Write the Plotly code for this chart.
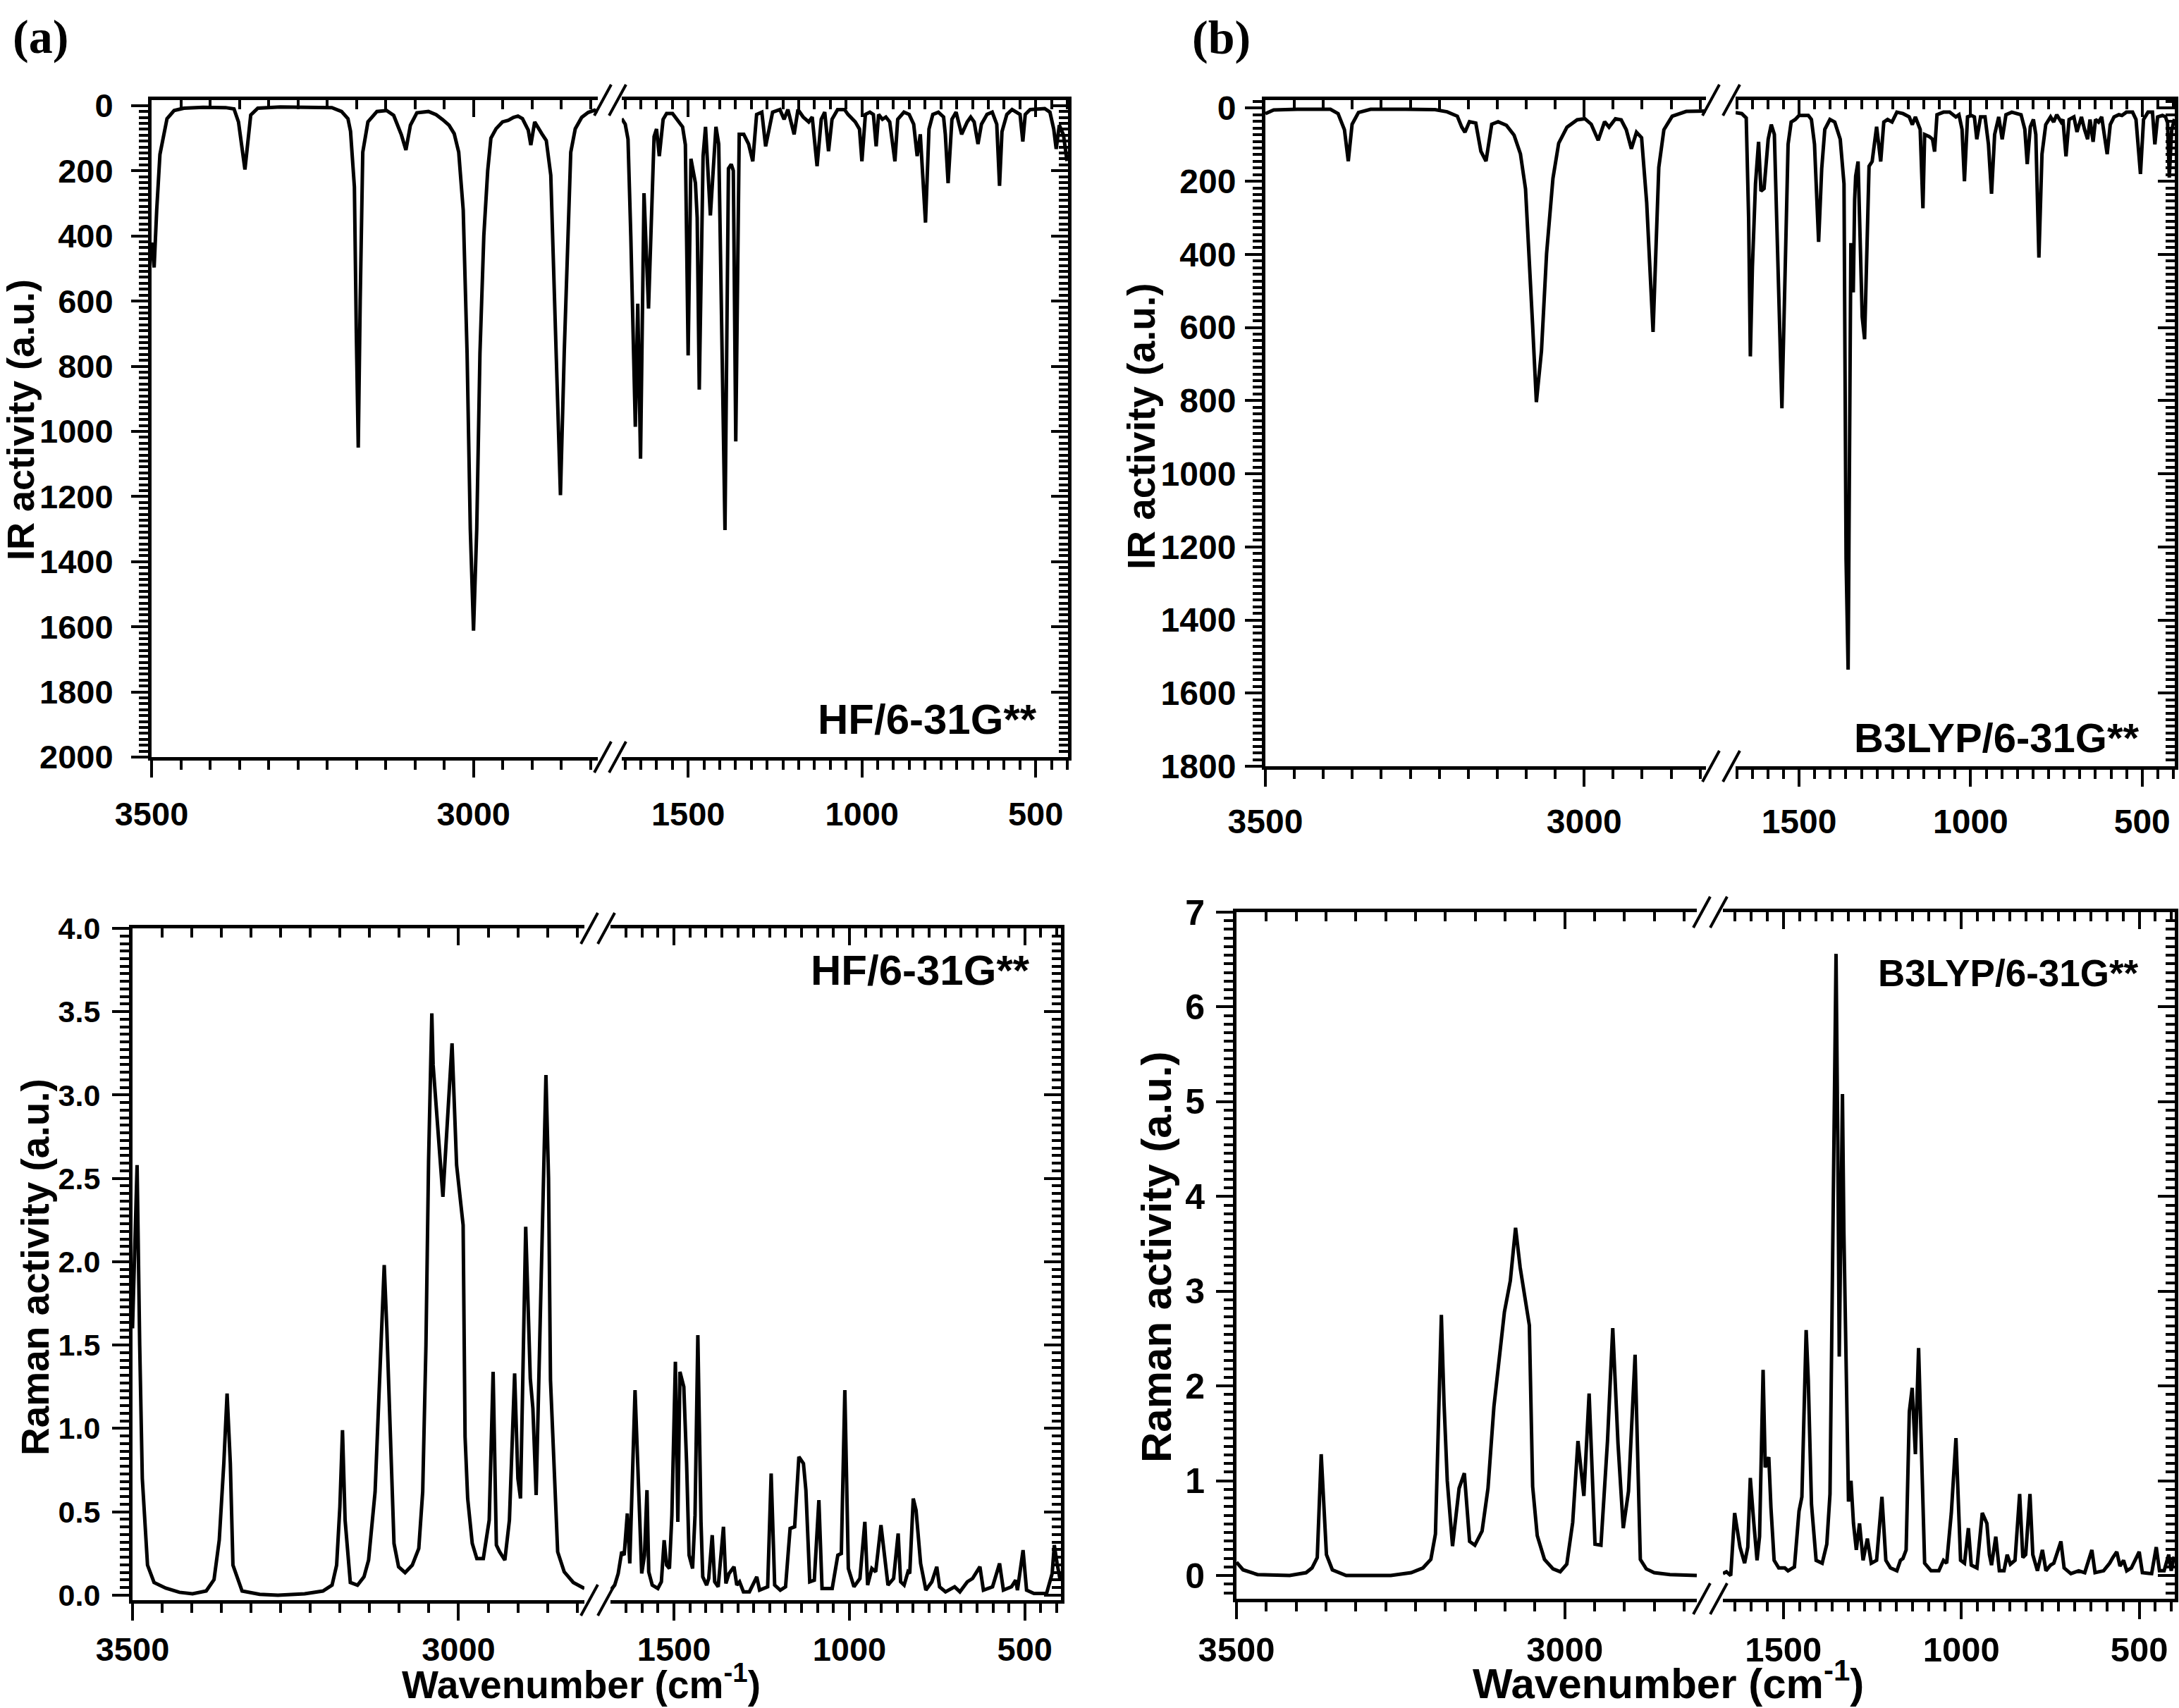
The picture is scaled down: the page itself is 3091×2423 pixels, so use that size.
import math
import plotly.graph_objects as go

W, H = 3091, 2423

# ---------------- data: (wavenumber, activity) ----------------
hf_ir_high = [
    (3500, 420), (3496, 497), (3492, 320), (3487, 150), (3476, 40), (3465, 15), (3450, 8), (3420, 5),
    (3385, 6), (3372, 10), (3365, 50), (3355, 196), (3346, 29), (3335, 8), (3300, 4), (3250, 4),
    (3220, 6), (3205, 18), (3195, 40), (3191, 79), (3185, 250), (3182, 700), (3179, 1050), (3176, 600),
    (3172, 143), (3164, 50), (3150, 18), (3135, 15), (3124, 30), (3112, 90), (3105, 136), (3098, 60),
    (3088, 22), (3070, 18), (3058, 28), (3048, 43), (3038, 60), (3030, 86), (3023, 143), (3016, 321),
    (3010, 760), (3005, 1300), (3000, 1612), (2995, 1300), (2990, 760), (2984, 400), (2978, 200),
    (2973, 100), (2965, 71), (2955, 50), (2946, 45), (2938, 36), (2931, 32), (2924, 40), (2915, 75),
    (2911, 121), (2905, 50), (2894, 86), (2887, 107), (2880, 214), (2874, 600), (2865, 1196),
    (2859, 750), (2854, 400), (2849, 143), (2842, 71), (2832, 36), (2822, 21), (2812, 14), (2807, 20),
]
hf_ir_low = [
    (1691, 40), (1681, 57), (1673, 103), (1665, 400), (1652, 986), (1645, 608), (1637, 1084),
    (1627, 269), (1614, 623), (1598, 95), (1591, 72), (1583, 155), (1572, 42), (1562, 24), (1545, 24),
    (1531, 42), (1516, 65), (1508, 120), (1500, 767), (1492, 163), (1479, 238), (1474, 344),
    (1468, 872), (1457, 155), (1450, 65), (1436, 337), (1420, 65), (1412, 118), (1394, 1303),
    (1384, 193), (1376, 180), (1370, 200), (1363, 1031), (1353, 88), (1340, 88), (1326, 118),
    (1314, 171), (1303, 27), (1288, 20), (1277, 125), (1257, 20), (1236, 12), (1224, 42), (1213, 12),
    (1195, 88), (1184, 12), (1169, 35), (1153, 50), (1143, 35), (1129, 186), (1117, 42), (1107, 20),
    (1096, 140), (1086, 42), (1070, 12), (1050, 12), (1040, 27), (1019, 50), (1007, 72), (1000, 171),
    (990, 27), (977, 20), (967, 27), (959, 125), (952, 27), (941, 42), (931, 35), (920, 50), (905, 171),
    (897, 42), (879, 20), (864, 27), (851, 57), (841, 155), (832, 88), (817, 359), (807, 72), (796, 27),
    (780, 20), (765, 35), (760, 88), (752, 238), (741, 42), (729, 20), (713, 88), (697, 50), (687, 35),
    (677, 50), (666, 118), (656, 57), (640, 27), (625, 20), (612, 57), (604, 246), (597, 80), (583, 27),
    (568, 12), (545, 27), (537, 110), (530, 27), (516, 12), (474, 9), (459, 20), (448, 72), (441, 133),
    (432, 60), (420, 90), (410, 170),
]
hf_raman_high = [
    (3500, 1.6), (3497, 2.0), (3493, 2.58), (3489, 1.5), (3485, 0.70), (3477, 0.18), (3467, 0.076),
    (3449, 0.042), (3428, 0.017), (3408, 0.008), (3387, 0.025), (3375, 0.093), (3367, 0.33),
    (3360, 0.79), (3355, 1.21), (3350, 0.79), (3346, 0.18), (3332, 0.025), (3305, 0.005), (3277, 0.0),
    (3236, 0.008), (3208, 0.025), (3194, 0.06), (3187, 0.18), (3182, 0.53), (3178, 0.99), (3174, 0.45),
    (3166, 0.076), (3155, 0.06), (3145, 0.11), (3138, 0.21), (3128, 0.62), (3121, 1.29), (3114, 1.98),
    (3110, 1.6), (3104, 0.8), (3099, 0.31), (3092, 0.17), (3082, 0.135), (3071, 0.18), (3061, 0.28),
    (3055, 0.62), (3050, 1.5), (3046, 2.6), (3041, 3.49), (3039, 3.18), (3024, 2.39), (3010, 3.31),
    (3003, 2.58), (2993, 2.22), (2990, 0.95), (2986, 0.58), (2979, 0.31), (2972, 0.22), (2962, 0.22),
    (2953, 0.45), (2947, 1.34), (2942, 0.3), (2937, 0.26), (2929, 0.21), (2922, 0.45), (2914, 1.33),
    (2909, 0.7), (2905, 0.58), (2901, 1.5), (2897, 2.21), (2890, 1.3), (2886, 1.12), (2881, 0.6),
    (2872, 2.0), (2866, 3.12), (2862, 2.5), (2859, 1.29), (2848, 0.26), (2838, 0.14), (2824, 0.076),
    (2807, 0.04),
]
hf_raman_low = [
    (1681, 0.03), (1669, 0.06), (1659, 0.13), (1649, 0.26), (1642, 0.24), (1633, 0.49), (1626, 0.19),
    (1611, 1.23), (1592, 0.13), (1584, 0.24), (1577, 0.63), (1572, 0.14), (1562, 0.06), (1546, 0.04),
    (1536, 0.08), (1528, 0.33), (1521, 0.18), (1513, 0.16), (1506, 0.48), (1496, 1.40), (1489, 0.44),
    (1483, 1.34), (1472, 1.25), (1464, 0.79), (1457, 0.24), (1447, 0.16), (1440, 0.48), (1432, 1.56),
    (1423, 0.44), (1418, 0.11), (1407, 0.06), (1401, 0.1), (1391, 0.36), (1384, 0.08), (1374, 0.05),
    (1359, 0.41), (1352, 0.07), (1343, 0.13), (1329, 0.17), (1321, 0.06), (1313, 0.08), (1302, 0.02),
    (1285, 0.02), (1264, 0.11), (1256, 0.03), (1233, 0.05), (1223, 0.73), (1213, 0.06), (1197, 0.03),
    (1182, 0.05), (1169, 0.40), (1156, 0.41), (1144, 0.83), (1131, 0.79), (1124, 0.63), (1113, 0.08),
    (1100, 0.09), (1087, 0.57), (1078, 0.04), (1049, 0.04), (1033, 0.24), (1023, 0.25), (1013, 1.23),
    (1003, 0.16), (987, 0.05), (970, 0.1), (956, 0.44), (948, 0.06), (936, 0.16), (925, 0.14),
    (910, 0.42), (890, 0.06), (874, 0.1), (861, 0.37), (854, 0.08), (844, 0.06), (833, 0.14),
    (828, 0.13), (818, 0.58), (810, 0.51), (797, 0.19), (782, 0.03), (765, 0.08), (751, 0.17),
    (743, 0.05), (726, 0.02), (700, 0.05), (685, 0.02), (664, 0.08), (649, 0.1), (628, 0.17),
    (618, 0.03), (592, 0.05), (572, 0.19), (561, 0.03), (538, 0.05), (526, 0.09), (521, 0.03),
    (505, 0.27), (495, 0.03), (474, 0.01), (438, 0.01), (422, 0.13), (416, 0.30), (408, 0.19), (400, 0.1),
]
b3_ir_high = [
    (3500, 15), (3487, 5), (3450, 3), (3398, 3), (3386, 15), (3376, 59), (3370, 145), (3364, 44),
    (3354, 12), (3335, 3), (3280, 3), (3234, 4), (3215, 10), (3199, 22), (3192, 52), (3187, 66),
    (3180, 37), (3170, 41), (3162, 118), (3154, 145), (3145, 44), (3135, 37), (3122, 47), (3110, 74),
    (3100, 125), (3092, 221), (3081, 590), (3075, 804), (3067, 664), (3059, 398), (3049, 192),
    (3040, 96), (3027, 52), (3011, 32), (2999, 29), (2989, 44), (2978, 88), (2968, 37), (2961, 52),
    (2951, 29), (2942, 32), (2934, 59), (2926, 111), (2918, 66), (2910, 81), (2902, 258), (2892, 612),
    (2883, 162), (2875, 59), (2862, 22), (2840, 9), (2809, 8),
]
b3_ir_low = [
    (1685, 12), (1667, 15), (1654, 27), (1647, 301), (1642, 679), (1636, 436), (1627, 207), (1618, 92),
    (1611, 227), (1602, 220), (1590, 85), (1581, 45), (1572, 72), (1561, 409), (1550, 821), (1541, 463),
    (1532, 99), (1523, 38), (1511, 31), (1500, 20), (1485, 20), (1473, 20), (1464, 31), (1455, 99),
    (1443, 366), (1434, 166), (1425, 58), (1410, 31), (1396, 38), (1380, 85), (1369, 207), (1365, 800),
    (1363, 1233), (1357, 1536), (1353, 1000), (1349, 369), (1345, 450), (1342, 504), (1338, 250),
    (1335, 186), (1328, 146), (1316, 571), (1309, 632), (1304, 409), (1296, 159), (1287, 146),
    (1274, 51), (1262, 146), (1253, 38), (1242, 31), (1229, 38), (1215, 11), (1197, 15), (1179, 24),
    (1170, 45), (1161, 24), (1147, 58), (1139, 274), (1134, 72), (1120, 78), (1111, 85), (1105, 119),
    (1098, 18), (1079, 11), (1061, 11), (1043, 24), (1034, 18), (1025, 58), (1018, 200), (1009, 24),
    (998, 20), (989, 24), (982, 85), (971, 24), (958, 24), (948, 99), (939, 234), (930, 72), (918, 24),
    (908, 85), (897, 18), (880, 11), (853, 18), (842, 58), (835, 153), (826, 51), (817, 31), (810, 72),
    (801, 409), (792, 126), (781, 45), (767, 24), (758, 38), (749, 18), (736, 38), (731, 31), (722, 132),
    (713, 31), (699, 24), (690, 65), (677, 24), (668, 58), (659, 85), (652, 31), (643, 92), (636, 31),
    (627, 38), (618, 24), (602, 126), (593, 45), (582, 24), (568, 18), (559, 20), (546, 11), (528, 11),
    (518, 31), (505, 180), (496, 31), (483, 11), (470, 11), (463, 99), (455, 24), (441, 20), (432, 24),
    (426, 40), (421, 190), (414, 60), (406, 30),
]
b3_raman_high = [
    (3500, 0.14), (3490, 0.06), (3468, 0.01), (3419, 0.0), (3394, 0.03), (3385, 0.08), (3377, 0.19),
    (3371, 1.28), (3363, 0.22), (3354, 0.06), (3333, 0.0), (3265, 0.0), (3234, 0.03), (3216, 0.08),
    (3204, 0.17), (3197, 0.44), (3188, 2.75), (3184, 1.83), (3179, 1.0), (3171, 0.31), (3161, 0.92),
    (3153, 1.08), (3145, 0.36), (3137, 0.32), (3126, 0.47), (3117, 0.92), (3108, 1.78), (3099, 2.39),
    (3092, 2.78), (3083, 3.11), (3075, 3.67), (3068, 3.25), (3058, 2.83), (3054, 2.64), (3049, 0.94),
    (3042, 0.42), (3031, 0.17), (3018, 0.07), (3007, 0.04), (2997, 0.12), (2988, 0.56), (2980, 1.42),
    (2971, 0.84), (2963, 1.92), (2954, 0.33), (2945, 0.32), (2935, 1.42), (2927, 2.61), (2919, 1.39),
    (2911, 0.5), (2903, 0.89), (2893, 2.33), (2885, 0.17), (2876, 0.07), (2864, 0.03), (2840, 0.01),
    (2799, 0.0),
]
b3_raman_low = [
    (1670, 0.02), (1660, 0.04), (1648, 0.0), (1637, 0.66), (1622, 0.30), (1609, 0.13), (1600, 0.30),
    (1593, 1.03), (1583, 0.55), (1574, 0.16), (1567, 0.41), (1557, 2.17), (1551, 1.14), (1541, 1.25),
    (1535, 0.72), (1526, 0.16), (1513, 0.08), (1496, 0.08), (1487, 0.05), (1469, 0.09), (1456, 0.68),
    (1448, 0.83), (1436, 2.59), (1430, 2.06), (1421, 0.75), (1408, 0.16), (1391, 0.13), (1378, 0.33),
    (1369, 0.86), (1362, 3.3), (1357, 5.6), (1352, 6.56), (1347, 4.5), (1343, 2.31), (1338, 3.8),
    (1334, 5.08), (1330, 3.63), (1324, 2.06), (1317, 0.78), (1310, 1.0), (1303, 0.55), (1295, 0.27),
    (1286, 0.55), (1276, 0.16), (1264, 0.39), (1253, 0.13), (1238, 0.16), (1223, 0.83), (1212, 0.16),
    (1199, 0.08), (1181, 0.05), (1171, 0.16), (1164, 0.18), (1155, 0.27), (1146, 1.73), (1138, 1.98),
    (1129, 1.28), (1120, 2.40), (1113, 1.56), (1103, 0.13), (1085, 0.05), (1063, 0.05), (1050, 0.16),
    (1041, 0.13), (1028, 0.66), (1015, 1.45), (1002, 0.16), (991, 0.13), (980, 0.5), (972, 0.11),
    (956, 0.08), (941, 0.66), (928, 0.55), (921, 0.22), (915, 0.11), (903, 0.41), (893, 0.05),
    (880, 0.05), (871, 0.22), (862, 0.12), (849, 0.16), (836, 0.86), (827, 0.19), (819, 0.22),
    (807, 0.86), (799, 0.22), (786, 0.05), (772, 0.27), (762, 0.05), (749, 0.11), (740, 0.13),
    (720, 0.36), (711, 0.08), (692, 0.02), (670, 0.05), (653, 0.03), (633, 0.27), (624, 0.03),
    (600, 0.05), (583, 0.13), (574, 0.19), (563, 0.25), (554, 0.1), (544, 0.16), (535, 0.05),
    (522, 0.08), (500, 0.25), (491, 0.03), (465, 0.02), (452, 0.30), (443, 0.05), (430, 0.05),
    (417, 0.22), (410, 0.05), (402, 0.2),
]

# ---------------- tick labels / texts ----------------
x_major_high = [3500, 3000]
x_major_low = [1500, 1000, 500]
ir_hf_ticks = [0, 200, 400, 600, 800, 1000, 1200, 1400, 1600, 1800, 2000]
ir_b3_ticks = [0, 200, 400, 600, 800, 1000, 1200, 1400, 1600, 1800]
raman_hf_ticks = [0.0, 0.5, 1.0, 1.5, 2.0, 2.5, 3.0, 3.5, 4.0]
raman_hf_labels = ["0.0", "0.5", "1.0", "1.5", "2.0", "2.5", "3.0", "3.5", "4.0"]
raman_b3_ticks = [0, 1, 2, 3, 4, 5, 6, 7]

FONT = "Liberation Sans, Arial, sans-serif"
SERIF = "Liberation Serif, Times New Roman, serif"

# geometry (pixels): left segment (px0, px1, wn0, wn1), right segment, frame top/bottom
panels = [
    dict(high=hf_ir_high, low=hf_ir_low, L=(215, 848, 3500, 2807), R=(882, 1515, 1691, 407),
         top=142, bot=1074, yrange=[2000, -17], yticks=ir_hf_ticks,
         ylabels=[str(v) for v in ir_hf_ticks], ystep=200, yfs=47, xfs=47, ystand=16, xstand=12),
    dict(high=hf_raman_high, low=hf_raman_low, L=(188, 829, 3500, 2807), R=(866, 1505, 1681, 397),
         top=1317, bot=2270, yrange=[-0.03, 4.0], yticks=raman_hf_ticks,
         ylabels=raman_hf_labels, ystep=0.5, yfs=43, xfs=47, ystand=8, xstand=1),
    dict(high=b3_ir_high, low=b3_ir_low, L=(1795, 2420, 3500, 2809), R=(2462, 3085, 1685, 405),
         top=142, bot=1087, yrange=[1800, -22], yticks=ir_b3_ticks,
         ylabels=[str(v) for v in ir_b3_ticks], ystep=200, yfs=48, xfs=48, ystand=3, xstand=8),
    dict(high=b3_raman_high, low=b3_raman_low, L=(1754, 2407, 3500, 2799), R=(2444, 3085, 1670, 400),
         top=1294, bot=2268, yrange=[-0.245, 7], yticks=raman_b3_ticks,
         ylabels=[str(v) for v in raman_b3_ticks], ystep=1, yfs=50, xfs=49, ystand=6, xstand=1),
]


def minor_vals(a, b, step, n=11):
    lo, hi = min(a, b), max(a, b)
    d = step / n
    out = []
    for i in range(math.ceil(lo / d - 1e-9), math.floor(hi / d + 1e-9) + 1):
        if i % n != 0:
            out.append(round(i * d, 6))
    return out


def px(x):
    return x / W


def py(y):
    return 1 - y / H


def nm(prefix, n):
    return prefix + ("" if n == 1 else str(n))


fig = go.Figure()
layout = {}
shapes = []
line_w = 5
tick_w = 4
major_len = 24
minor_len = 13

for p, s in enumerate(panels):
    xbl, xbr, xtl, xtr = 4 * p + 1, 4 * p + 2, 4 * p + 3, 4 * p + 4
    yl, yr = 2 * p + 1, 2 * p + 2
    ydom = [py(s["bot"]), py(s["top"])]
    Lp0, Lp1, Lw0, Lw1 = s["L"]
    Rp0, Rp1, Rw0, Rw1 = s["R"]
    tickfont_x = dict(family=FONT, size=s["xfs"], color="black", weight="bold")
    tickfont_y = dict(family=FONT, size=s["yfs"], color="black", weight="bold")
    base = dict(showline=True, linecolor="black", linewidth=line_w, showgrid=False, zeroline=False,
                tickwidth=tick_w, tickcolor="black", ticklen=major_len, autorange=False,
                automargin=False)

    def xaxis_def(dom, rng, anchor, majors, side, inside, overlay=None):
        d = dict(base)
        d.update(domain=dom, range=rng, anchor=anchor, side=side,
                 tickmode="array", tickvals=majors, ticktext=[str(v) for v in majors],
                 ticks="inside" if inside else "outside",
                 showticklabels=not inside, tickfont=tickfont_x, ticklabelstandoff=s["xstand"],
                 minor=dict(tickmode="array", tickvals=minor_vals(rng[0], rng[1], 500),
                            ticks="inside" if inside else "outside", ticklen=minor_len,
                            tickwidth=tick_w, tickcolor="black", showgrid=False))
        if overlay:
            d["overlaying"] = overlay
        return d

    domL = [px(Lp0), px(Lp1)]
    domR = [px(Rp0), px(Rp1)]
    layout[nm("xaxis", xbl)] = xaxis_def(domL, [Lw0, Lw1], nm("y", yl), x_major_high, "bottom", False)
    layout[nm("xaxis", xbr)] = xaxis_def(domR, [Rw0, Rw1], nm("y", yr), x_major_low, "bottom", False)
    layout[nm("xaxis", xtl)] = xaxis_def(domL, [Lw0, Lw1], nm("y", yl), x_major_high, "top", True,
                                         overlay=nm("x", xbl))
    layout[nm("xaxis", xtr)] = xaxis_def(domR, [Rw0, Rw1], nm("y", yr), x_major_low, "top", True,
                                         overlay=nm("x", xbr))

    ymin = minor_vals(s["yrange"][0], s["yrange"][1], s["ystep"])
    dl = dict(base)
    dl.update(domain=ydom, range=s["yrange"], anchor=nm("x", xbl), side="left",
              tickmode="array", tickvals=s["yticks"], ticktext=s["ylabels"], ticks="outside",
              tickfont=tickfont_y, ticklabelstandoff=s["ystand"],
              minor=dict(tickmode="array", tickvals=ymin, ticks="outside", ticklen=minor_len,
                         tickwidth=tick_w, tickcolor="black", showgrid=False))
    layout[nm("yaxis", yl)] = dl
    dr = dict(base)
    dr.update(domain=ydom, range=s["yrange"], anchor=nm("x", xbr), side="right",
              tickmode="array", tickvals=s["yticks"], ticks="inside", showticklabels=False,
              minor=dict(tickmode="array", tickvals=ymin, ticks="inside", ticklen=minor_len,
                         tickwidth=tick_w, tickcolor="black", showgrid=False))
    layout[nm("yaxis", yr)] = dr

    for seg, xa, ya in ((s["high"], xbl, yl), (s["low"], xbr, yr)):
        fig.add_trace(go.Scatter(x=[q[0] for q in seg], y=[q[1] for q in seg], mode="lines",
                                 line=dict(color="black", width=5), showlegend=False,
                                 hoverinfo="skip", xaxis=nm("x", xa), yaxis=nm("y", ya)))
    for xa, ya in ((xtl, yl), (xtr, yr)):
        fig.add_trace(go.Scatter(x=[], y=[], mode="lines", showlegend=False, hoverinfo="skip",
                                 xaxis=nm("x", xa), yaxis=nm("y", ya)))

    # axis-break marks "//"
    for yy in (s["top"], s["bot"]):
        for cx in (Lp1 + 7, Rp0 - 6):
            shapes.append(dict(type="line", xref="paper", yref="paper",
                               x0=px(cx - 12), y0=py(yy + 22), x1=px(cx + 12), y1=py(yy - 22),
                               line=dict(color="black", width=4)))

annotations = []


def ann(text, x, y, size, family=FONT, angle=0):
    annotations.append(dict(text=text, x=px(x), y=py(y), xref="paper", yref="paper",
                            xanchor="center", yanchor="middle", showarrow=False, textangle=angle,
                            font=dict(family=family, size=size, color="black", weight="bold")))


ann("(a)", 57, 52, 68, family=SERIF)
ann("(b)", 1733, 53, 68, family=SERIF)
ann("IR activity (a.u.)", 29, 596, 54, angle=-90)
ann("Raman activity (a.u.)", 50, 1798, 55, angle=-90)
ann("IR activity (a.u.)", 1619, 605, 55, angle=-90)
ann("Raman activity (a.u.)", 1640, 1783, 60, angle=-90)
ann("Wavenumber (cm<sup>-1</sup>)", 824, 2386, 55)
ann("Wavenumber (cm<sup>-1</sup>)", 2366, 2384, 60)
ann("HF/6-31G**", 1315, 1021, 60)
ann("HF/6-31G**", 1305, 1376, 60)
ann("B3LYP/6-31G**", 2832, 1047, 58)
ann("B3LYP/6-31G**", 2849, 1380, 53)

fig.update_layout(width=W, height=H, autosize=False, margin=dict(l=0, r=0, t=0, b=0, pad=0),
                  paper_bgcolor="white", plot_bgcolor="white", showlegend=False,
                  shapes=shapes, annotations=annotations, **layout)

fig.write_html("out.html", config={"displayModeBar": False},
               post_script="document.body.style.margin='0';document.body.style.overflow='hidden';")
